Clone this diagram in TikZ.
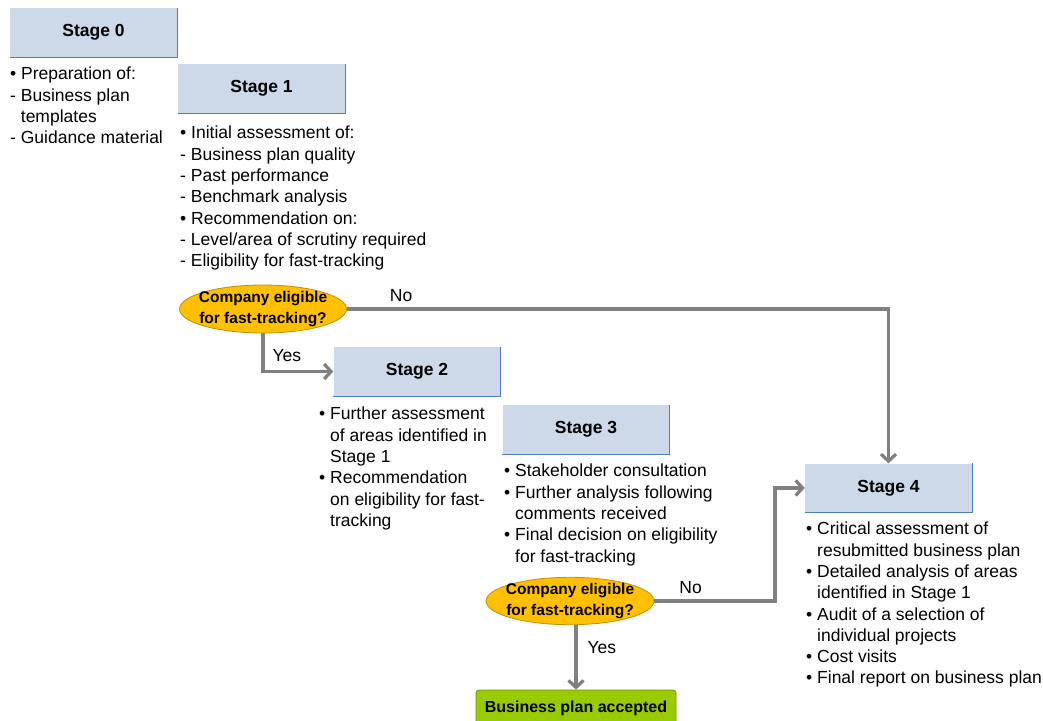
\documentclass[tikz,border=0pt]{standalone}
\usepackage{fontspec}
\setmainfont{Liberation Sans}
\usepackage{xcolor}
\usetikzlibrary{arrows.meta,positioning,shapes.geometric}

\definecolor{boxblue}{HTML}{CDD8E9}
\definecolor{edgeblue}{HTML}{4F7FBC}
\definecolor{arrgray}{HTML}{808080}
\definecolor{askfill}{HTML}{FFC000}
\definecolor{askedge}{HTML}{BF9000}
\definecolor{okfill}{HTML}{99CC00}
\definecolor{okedge}{HTML}{6F9400}

\newcommand{\bl}{\textbullet\ }
\newcommand{\hang}{\phantom{\textbullet\ }}
\newcommand{\dhang}{\phantom{- }}

\begin{document}
\begin{tikzpicture}[
  x=1pt, y=-1pt,
  stagebox/.style={minimum width=167pt, minimum height=49pt, inner sep=0pt,
    fill=boxblue, font=\bfseries\fontsize{17.5}{20}\selectfont},
  boxedge/.style={edgeblue, line width=1.3pt},
  notes/.style={anchor=north west, align=left, inner sep=0pt,
    font=\fontsize{17.5}{21.3}\selectfont},
  ask/.style={ellipse, draw=askedge, fill=askfill, line width=0.8pt,
    inner xsep=-7pt, inner ysep=-1pt,
    align=center, font=\bfseries\fontsize{15.5}{21}\selectfont},
  okbox/.style={draw=okedge, fill=okfill, rounded corners=3pt, line width=0.8pt,
    minimum width=200pt, minimum height=36pt, inner sep=0pt,
    font=\bfseries\fontsize{16}{20}\selectfont},
  lbl/.style={text=black, font=\fontsize{17.5}{20}\selectfont, inner sep=0pt},
  arr/.style={-{Straight Barb[length=7pt,width=15pt]}, arrgray, line width=3.2pt}
]
\useasboundingbox (0,0) rectangle (1043,720);

% stages
\node[stagebox] (s0) at (93.5,32.5) {Stage 0};
\node[stagebox] (s1) at (261.5,88.5) {Stage 1};
\node[stagebox] (s2) at (417,371.5) {Stage 2};
\node[stagebox] (s3) at (586,429.5) {Stage 3};
\node[stagebox] (s4) at (888.5,488) {Stage 4};

\foreach \s in {s0,s1,s2,s3,s4}
  \draw[boxedge] (\s.north east) -- (\s.south east) -- (\s.south west);

% notes under the stages
\node[notes] (n0) at (10,67) {\bl Preparation of:\\
  - Business plan\\
  \dhang templates\\
  - Guidance material};

\node[notes] (n1) at (180,126) {\bl Initial assessment of:\\
  - Business plan quality\\
  - Past performance\\
  - Benchmark analysis\\
  \bl Recommendation on:\\
  - Level/area of scrutiny required\\
  - Eligibility for fast-tracking};

\node[notes] (n2) at (319,407) {\bl Further assessment\\
  \hang of areas identified in\\
  \hang Stage 1\\
  \bl Recommendation\\
  \hang on eligibility for fast-\\
  \hang tracking};

\node[notes] (n3) at (504,464) {\bl Stakeholder consultation\\
  \bl Further analysis following\\
  \hang comments received\\
  \bl Final decision on eligibility\\
  \hang for fast-tracking};

\node[notes] (n4) at (806,522) {\bl Critical assessment of\\
  \hang resubmitted business plan\\
  \bl Detailed analysis of areas\\
  \hang identified in Stage 1\\
  \bl Audit of a selection of\\
  \hang individual projects\\
  \bl Cost visits\\
  \bl Final report on business plan};

% decisions
\node[ask, minimum width=167pt, minimum height=48pt] (q1) at (263,309)
  {Company eligible\\for fast-tracking?};
\node[ask, minimum width=168pt, minimum height=46pt] (q2) at (570,601)
  {Company eligible\\for fast-tracking?};

\node[okbox] (acc) at (576,708) {Business plan accepted};

\coordinate (jn) at (775,540);

% connectors
\draw[arr] (q1.east) -| node[lbl, pos=0.05, above=6pt] {No} (s4.north);
\draw[arr] (q1.south) |- node[lbl, pos=0.45, above right=4pt and 8pt] {Yes} (s2.west);
\draw[arr] (q2.east) -| node[lbl, pos=0.15, above=6pt] {No} (jn) |- (s4.west);
\draw[arr] (acc.north |- q2.south) -- node[lbl, pos=0.35, right=10pt] {Yes} (acc.north);
\end{tikzpicture}
\end{document}
